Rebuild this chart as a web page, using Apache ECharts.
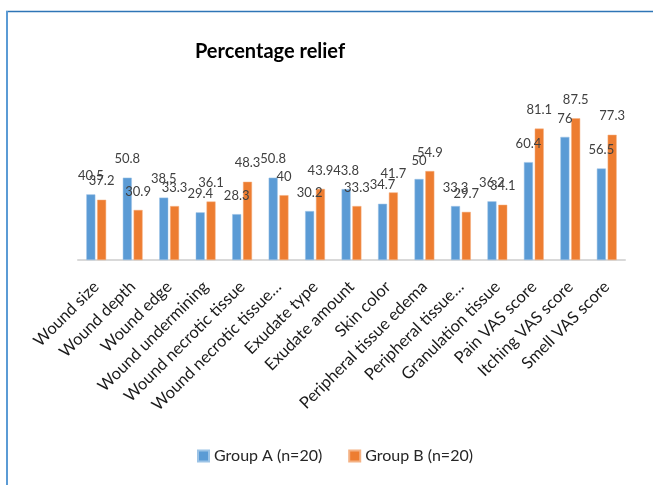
<!DOCTYPE html>
<html>
<head>
<meta charset="utf-8">
<script src="https://cdn.jsdelivr.net/npm/echarts@6/dist/echarts.min.js"></script>
<style>
  html, body { margin: 0; padding: 0; background: #fff; }
  #chart { width: 653px; height: 485px; }
</style>
</head>
<body>
<div id="chart"></div>
<script>
// categories (long names are cut off in the source chart)
const categories = [
  'Wound size', 'Wound depth', 'Wound edge', 'Wound undermining',
  'Wound necrotic tissue', 'Wound necrotic tissue…', 'Exudate type',
  'Exudate amount', 'Skin color', 'Peripheral tissue edema',
  'Peripheral tissue…', 'Granulation tissue', 'Pain VAS score',
  'Itching VAS score', 'Smell VAS score'
]
// percentage relief per group
const groupA = [40.5, 50.8, 38.5, 29.4, 28.3, 50.8, 30.2, 43.8, 34.7, 50, 33.3, 36.2, 60.4, 76, 56.5]
const groupB = [37.2, 30.9, 33.3, 36.1, 48.3, 40, 43.9, 33.3, 41.7, 54.9, 29.7, 34.1, 81.1, 87.5, 77.3]
const seriesNames = ['Group A (n=20)', 'Group B (n=20)']

const FONT = 'Lato, "Open Sans", sans-serif'

const chart = echarts.init(document.getElementById('chart'))

const barLabel = {
  show: true,
  position: 'top',
  distance: 12,
  color: '#404040',
  fontSize: 13,
  fontFamily: FONT
}

chart.setOption({
  animation: false,
  title: {
    text: 'Percentage relief',
    left: 265,
    top: 37,
    textAlign: 'center',
    textStyle: {fontSize: 20, fontWeight: 'bold', color: '#000', fontFamily: FONT}
  },
  legend: {
    left: 192,
    top: 443,
    itemWidth: 11,
    itemHeight: 11,
    itemGap: 26,
    icon: 'rect',
    textStyle: {fontSize: 16, color: '#262626', fontFamily: FONT},
    data: seriesNames
  },
  grid: {
    left: 78,
    right: 28,
    top: 98,
    bottom: 225
  },
  xAxis: {
    type: 'category',
    data: categories,
    axisLine: {lineStyle: {color: '#d9d9d9', width: 2}},
    axisTick: {show: false},
    axisLabel: {
      rotate: 45,
      interval: 0,
      margin: 24,
      fontSize: 16.5,
      color: '#1a1a1a',
      fontFamily: FONT
    }
  },
  yAxis: {
    type: 'value',
    min: 0,
    max: 100,
    show: false
  },
  series: [
    {
      name: seriesNames[0],
      type: 'bar',
      data: groupA,
      barWidth: 9,
      barGap: '20%',
      itemStyle: {color: '#5b9bd5', borderColor: '#9cc3e6', borderWidth: 0.5},
      label: barLabel
    },
    {
      name: seriesNames[1],
      type: 'bar',
      data: groupB,
      barWidth: 9,
      itemStyle: {color: '#ed7d31', borderColor: '#f4b183', borderWidth: 0.5},
      label: barLabel
    }
  ],
  // frame of the chart area (only top and left edges are inside the picture)
  graphic: [
    {type: 'line', shape: {x1: 6, y1: 11.5, x2: 660, y2: 11.5}, style: {stroke: '#2e75b6', lineWidth: 1.5}},
    {type: 'line', shape: {x1: 7, y1: 11, x2: 7, y2: 490}, style: {stroke: '#5b9bd5', lineWidth: 2}}
  ]
})
</script>
</body>
</html>
